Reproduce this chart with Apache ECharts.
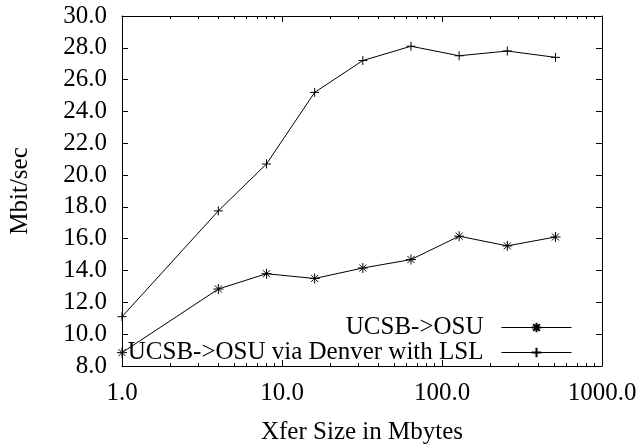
<!DOCTYPE html>
<html><head><meta charset="utf-8">
<script src="https://cdn.jsdelivr.net/npm/echarts@6/dist/echarts.min.js"></script>
<style>html,body{margin:0;padding:0;background:#fff}#c{width:639px;height:445px}</style>
</head><body><div id="c"></div>
<script>
const xSizes = [1, 4, 8, 16, 32, 64, 128, 256, 512];
const direct = [8.84, 12.84, 13.8, 13.5, 14.16, 14.69, 16.16, 15.55, 16.11];
const viaDenver = [11.1, 17.75, 20.7, 25.2, 27.2, 28.1, 27.5, 27.8, 27.4];
const xMajorTicks = [1, 10, 100, 1000];
const xMinorTicks = [2,3,4,5,6,7,8,9,20,30,40,50,60,70,80,90,200,300,400,500,600,700,800,900];
const seriesNames = ['UCSB->OSU', 'UCSB->OSU via Denver with LSL'];

const FONT = "'Liberation Serif', 'Times New Roman', serif";
const FS = 25;
const black = '#000';
const STAR = 'path://M0,-1L0,1M-1,0L1,0M-0.7,-0.7L0.7,0.7M-0.7,0.7L0.7,-0.7';
const PLUS = 'path://M0,-1L0,1M-1,0L1,0';

function xAxisDef(pos, ticks, len, showLine, showLabel, extra) {
  return Object.assign({
    type: 'log', logBase: 10, min: 1, max: 1000, position: pos,
    axisLine: { show: showLine, lineStyle: { color: black, width: 1 } },
    axisTick: { show: true, inside: true, length: len, customValues: ticks, lineStyle: { color: black, width: 1 } },
    axisLabel: { show: showLabel, customValues: ticks, margin: 15, color: black, fontFamily: FONT, fontSize: FS,
      formatter: v => Number(v).toFixed(1) },
    splitLine: { show: false }, minorTick: { show: false }
  }, extra || {});
}
function yAxisDef(pos, showLabel, extra) {
  return Object.assign({
    type: 'value', min: 8, max: 30, interval: 2, position: pos,
    axisLine: { show: true, lineStyle: { color: black, width: 1 } },
    axisTick: { show: true, inside: true, length: 6, lineStyle: { color: black, width: 1 } },
    axisLabel: { show: showLabel, margin: 15, color: black, fontFamily: FONT, fontSize: FS,
      formatter: v => Number(v).toFixed(1) },
    splitLine: { show: false }
  }, extra || {});
}

const chart = echarts.init(document.getElementById('c'), null, { renderer: 'canvas' });
chart.setOption({
  animation: false,
  backgroundColor: '#fff',
  grid: { left: 122, right: 37, top: 16, bottom: 79, containLabel: false, outerBoundsMode: 'none' },
  xAxis: [
    xAxisDef('bottom', xMajorTicks, 6, true, true, {
      name: 'Xfer Size in Mbytes', nameLocation: 'middle', nameGap: 54,
      nameTextStyle: { color: black, fontFamily: FONT, fontSize: FS }
    }),
    xAxisDef('bottom', xMinorTicks, 3, false, false),
    xAxisDef('top', xMajorTicks, 6, true, false),
    xAxisDef('top', xMinorTicks, 3, false, false)
  ],
  yAxis: [
    yAxisDef('left', true, {
      name: 'Mbit/sec', nameLocation: 'middle', nameGap: 89, nameRotate: 90,
      nameTextStyle: { color: black, fontFamily: FONT, fontSize: FS }
    }),
    yAxisDef('right', false)
  ],
  legend: {
    orient: 'vertical', align: 'right', right: 62, top: 310,
    itemWidth: 70, itemHeight: 12, itemGap: 0,
    lineStyle: { width: 1, color: black },
    textStyle: { color: black, fontFamily: FONT, fontSize: FS, lineHeight: 25, padding: [0, 13, 0, 0] },
    data: seriesNames
  },
  series: [
    {
      name: seriesNames[0], type: 'line', xAxisIndex: 0, yAxisIndex: 0,
      data: xSizes.map((x, i) => [x, direct[i]]),
      symbol: STAR, symbolSize: 10,
      lineStyle: { color: black, width: 1 },
      itemStyle: { color: black, borderColor: black, borderWidth: 1 }
    },
    {
      name: seriesNames[1], type: 'line', xAxisIndex: 0, yAxisIndex: 0,
      data: xSizes.map((x, i) => [x, viaDenver[i]]),
      symbol: PLUS, symbolSize: 9,
      lineStyle: { color: black, width: 1 },
      itemStyle: { color: black, borderColor: black, borderWidth: 1 }
    }
  ]
});
</script></body></html>
